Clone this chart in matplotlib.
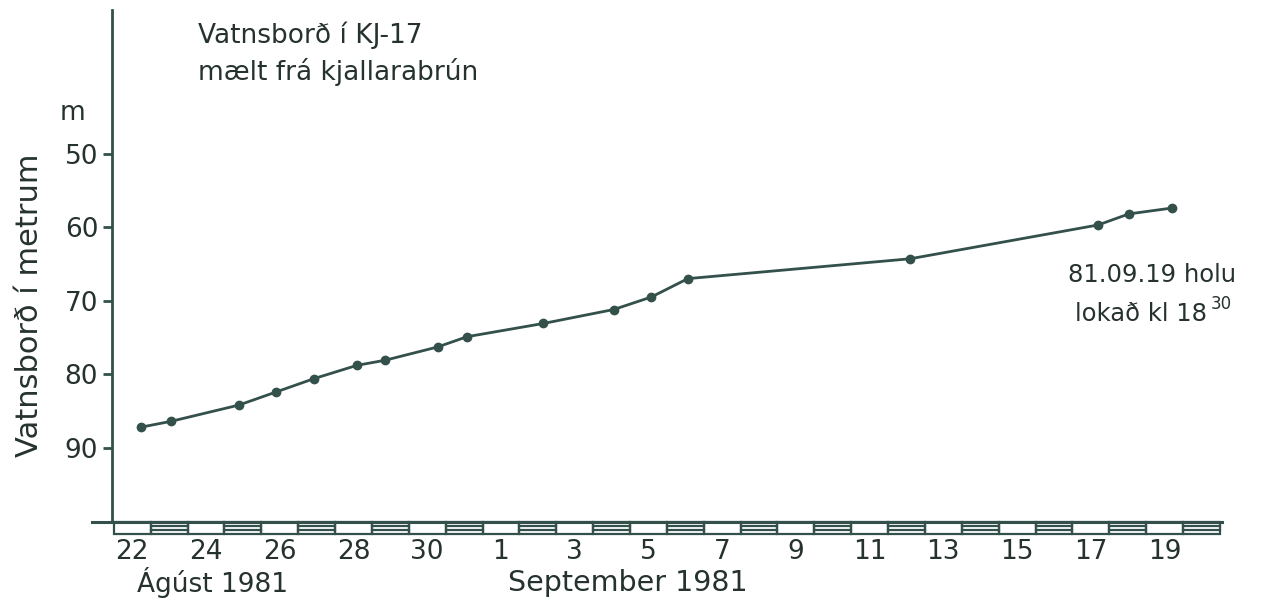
import matplotlib
matplotlib.use("Agg")
import matplotlib.pyplot as plt
import matplotlib.transforms as mtransforms
from matplotlib.patches import Rectangle

# days counted from 22 August 1981 (0 = Aug 22, 10 = Sep 1)
days = [0.24, 1.06, 2.89, 3.91, 4.93, 6.09, 6.86, 8.28, 9.08,
        11.15, 13.06, 14.08, 15.07, 21.1, 26.2, 27.03, 28.2]
# water level below basement edge (m)
level = [87.2, 86.4, 84.2, 82.4, 80.6, 78.8, 78.1, 76.3, 74.9,
         73.1, 71.2, 69.5, 67.0, 64.3, 59.7, 58.2, 57.4]

tick_days = list(range(0, 29, 2))
tick_labels = ["22", "24", "26", "28", "30", "1", "3", "5", "7",
               "9", "11", "13", "15", "17", "19"]
y_ticks = [50, 60, 70, 80, 90]

INK = "#33504b"
TEXT = "#25322f"
plt.rcParams["font.family"] = ["DejaVu Sans"]

fig = plt.figure(figsize=(12.66, 6.04), dpi=100)
ax = fig.add_axes([0.0885, 0.1358, 0.8765, 0.8472])

ax.plot(days, level, color=INK, lw=2.0, marker="o", ms=6,
        mfc=INK, mec=INK, zorder=3)

ax.set_xlim(-0.55, 29.55)
ax.set_ylim(100.1, 30.5)

for s in ["top", "right", "bottom"]:
    ax.spines[s].set_visible(False)
ax.spines["left"].set_color(INK)
ax.spines["left"].set_linewidth(2.0)

ax.set_yticks(y_ticks)
ax.tick_params(axis="y", direction="out", length=6.5, width=2, color=INK,
               pad=3.5, labelsize=19, labelcolor=TEXT)
ax.set_xticks(tick_days)
ax.set_xticklabels(tick_labels)
ax.tick_params(axis="x", length=0, pad=12, labelsize=19, labelcolor=TEXT)

# striped date band along the bottom
trans = mtransforms.blended_transform_factory(ax.transData, ax.transAxes)
band_h = 0.0234
ax.plot([-1.1, 29.55], [0, 0], transform=trans, color=INK, lw=2.2,
        clip_on=False, zorder=4)
for i in range(30):
    x0 = -0.5 + i
    ax.add_patch(Rectangle((x0, -band_h), 1, band_h, transform=trans,
                           fill=False, ec=INK, lw=1.6, clip_on=False))
    if i % 2 == 1:
        for f in (0.3, 0.7):
            ax.plot([x0, x0 + 1], [-band_h * f, -band_h * f],
                    transform=trans, color=INK, lw=1.6, clip_on=False)

ax.text(0.14, -0.119, "Ágúst 1981", transform=trans, ha="left", va="center",
        fontsize=19, color=TEXT)
ax.text(10.2, -0.119, "September 1981", transform=trans, ha="left",
        va="center", fontsize=20.5, color=TEXT)

# y label and unit
fig.text(30 / 1266, 1 - 305 / 604, "Vatnsborð í metrum", rotation=90,
         ha="center", va="center", fontsize=22, color=TEXT)
fig.text(72 / 1266, 1 - 113 / 604, "m", ha="center", va="center",
         fontsize=19, color=TEXT)

# title
fig.text(198 / 1266, 1 - 35 / 604, "Vatnsborð í KJ-17", ha="left",
         va="center", fontsize=19, color=TEXT)
fig.text(198 / 1266, 1 - 72 / 604, "mælt frá kjallarabrún", ha="left",
         va="center", fontsize=19, color=TEXT)

# note on the right
fig.text(1068 / 1266, 1 - 275 / 604, "81.09.19 holu", ha="left",
         va="center", fontsize=17.5, color=TEXT)
note = fig.text(1075 / 1266, 1 - 314 / 604, "lokað kl 18", ha="left",
                va="center", fontsize=17.5, color=TEXT)
fig.canvas.draw()
bb = note.get_window_extent()
fig.text((bb.x1 + 4) / 1266, 1 - 304 / 604, "30", ha="left", va="center",
         fontsize=12, color=TEXT)

fig.savefig("out.png", dpi=100)
